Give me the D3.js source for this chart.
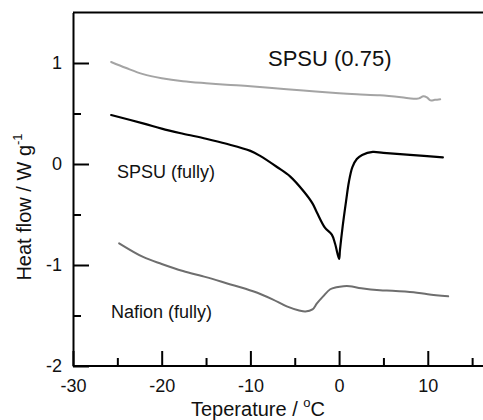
<!DOCTYPE html>
<html>
<head>
<meta charset="utf-8">
<script src="https://cdn.jsdelivr.net/npm/d3@7"></script>
<style>
  body { margin: 0; background: #fff; }
  text { font-family: 'Liberation Sans', Arial, sans-serif; fill: #111; }
  .axis path, .axis line { stroke: #000; stroke-width: 2; }
  .curve { fill: none; stroke-linejoin: round; stroke-linecap: round; }
</style>
</head>
<body>
<div id="chart"></div>
<script>
  var width = 483, height = 420;

  // SPSU (0.75), light grey trace
  var spsu075T = [-25.7, -24, -22.1, -20, -17.6, -15, -12.7, -10, -5.9, -3, 0, 2, 4.6, 7, 8.4, 9.0, 9.5, 9.9, 10.3, 10.8, 11.4];
  var spsu075V = [1.01, 0.95, 0.89, 0.85, 0.82, 0.80, 0.785, 0.77, 0.74, 0.72, 0.70, 0.69, 0.68, 0.66, 0.645, 0.65, 0.67, 0.66, 0.63, 0.635, 0.64];

  // SPSU (fully), black trace
  var spsuFullT = [-25.7, -22, -20, -17.6, -15, -12.7, -10, -8.9, -7, -5.5, -4, -3, -2.5, -1.6, -0.82, -0.45, 0, 0.1, 0.4, 0.8, 1.1, 1.5, 2.0, 2.6, 3.8, 5, 8, 11.7];
  var spsuFullV = [0.485, 0.40, 0.35, 0.30, 0.25, 0.20, 0.13, 0.08, -0.03, -0.125, -0.27, -0.39, -0.48, -0.63, -0.70, -0.79, -0.94, -0.85, -0.62, -0.36, -0.18, -0.03, 0.05, 0.09, 0.12, 0.11, 0.09, 0.066];

  // Nafion (fully), dark grey trace
  var nafionT = [-24.8, -22.1, -20, -17.6, -15, -12.7, -9.7, -7.5, -5.9, -4.5, -3.8, -3.0, -2.5, -1.8, -1.0, -0.3, 0.5, 1.2, 2.5, 4.6, 6, 8.4, 10, 12.3];
  var nafionV = [-0.785, -0.92, -0.99, -1.06, -1.12, -1.18, -1.26, -1.34, -1.41, -1.45, -1.46, -1.44, -1.38, -1.31, -1.24, -1.22, -1.21, -1.21, -1.23, -1.25, -1.255, -1.27, -1.29, -1.31];

  var xMajor = [-30, -20, -10, 0, 10];
  var xMinor = [-25, -15, -5, 5, 15];
  var yMajor = [-2, -1, 0, 1];
  var yMinor = [-1.5, -0.5, 0.5];

  var x = d3.scaleLinear().domain([-30, 17.5]).range([73, 494.3]);
  var y = d3.scaleLinear().domain([-2, 1.5]).range([366, 12.5]);

  var svg = d3.select("#chart").append("svg")
    .attr("width", width)
    .attr("height", height);

  // plain hyphen for negatives, like the original
  var fmt = function (d) { return String(d); };

  // minor ticks
  svg.append("g").attr("class", "axis")
    .attr("transform", "translate(0," + y(-2) + ")")
    .call(d3.axisBottom(x).tickValues(xMinor).tickSizeInner(-8).tickSizeOuter(0).tickFormat(""))
    .select(".domain").remove();
  svg.append("g").attr("class", "axis")
    .attr("transform", "translate(" + x(-30) + ",0)")
    .call(d3.axisLeft(y).tickValues(yMinor).tickSizeInner(-8).tickSizeOuter(0).tickFormat(""))
    .select(".domain").remove();

  // major axes
  var xAxis = svg.append("g").attr("class", "axis")
    .attr("transform", "translate(0," + y(-2) + ")")
    .call(d3.axisBottom(x).tickValues(xMajor).tickSizeInner(-15).tickSizeOuter(0).tickPadding(13).tickFormat(fmt));
  xAxis.selectAll("text").style("font-size", "18px").attr("fill", "#111");
  xAxis.select(".domain").attr("d", "M" + x(-30) + ",0H" + width);

  var yAxis = svg.append("g").attr("class", "axis")
    .attr("transform", "translate(" + x(-30) + ",0)")
    .call(d3.axisLeft(y).tickValues(yMajor).tickSizeInner(-16).tickSizeOuter(0).tickPadding(11).tickFormat(fmt));
  yAxis.selectAll("text").style("font-size", "18px").attr("fill", "#111");

  // top frame line
  svg.append("line")
    .attr("x1", x(-30)).attr("x2", width)
    .attr("y1", y(1.5)).attr("y2", y(1.5))
    .attr("stroke", "#000").attr("stroke-width", 2);

  var line = d3.line()
    .x(function (d) { return x(d[0]); })
    .y(function (d) { return y(d[1]); })
    .curve(d3.curveCatmullRom.alpha(0.5));

  function pairs(t, v) { return t.map(function (d, i) { return [d, v[i]]; }); }

  svg.append("path").attr("class", "curve")
    .attr("d", line(pairs(spsu075T, spsu075V)))
    .attr("stroke", "#a4a4a4").attr("stroke-width", 2);

  svg.append("path").attr("class", "curve")
    .attr("d", line(pairs(spsuFullT, spsuFullV)))
    .attr("stroke", "#000").attr("stroke-width", 2.2);

  svg.append("path").attr("class", "curve")
    .attr("d", line(pairs(nafionT, nafionV)))
    .attr("stroke", "#6e6e6e").attr("stroke-width", 2);

  // labels
  svg.append("text").attr("x", 268).attr("y", 66).style("font-size", "22px").text("SPSU (0.75)");
  svg.append("text").attr("x", 117).attr("y", 178).style("font-size", "18px").text("SPSU (fully)");
  svg.append("text").attr("x", 111).attr("y", 318).style("font-size", "18px").text("Nafion (fully)");

  // axis titles
  var xt = svg.append("text")
    .attr("x", 258).attr("y", 416)
    .attr("text-anchor", "middle")
    .style("font-size", "20px");
  xt.append("tspan").text("Teperature / ");
  xt.append("tspan").attr("dy", -9).style("font-size", "13px").text("o");
  xt.append("tspan").attr("dy", 9).text("C");

  var yt = svg.append("text")
    .attr("transform", "translate(31,207) rotate(-90)")
    .attr("text-anchor", "middle")
    .style("font-size", "20px");
  yt.append("tspan").text("Heat flow / W g");
  yt.append("tspan").attr("dy", -9).style("font-size", "13px").text("-1");
</script>
</body>
</html>
